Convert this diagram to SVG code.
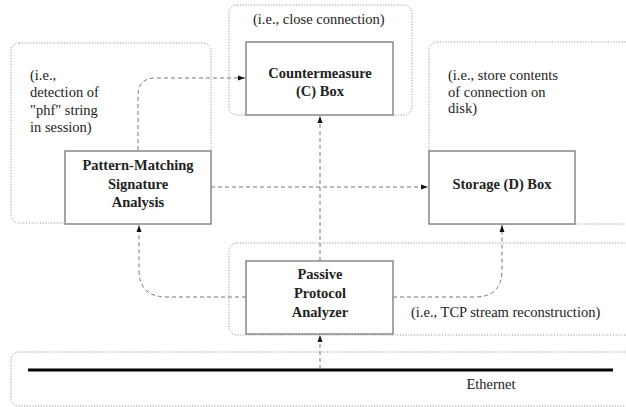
<svg xmlns="http://www.w3.org/2000/svg" width="626" height="407" viewBox="0 0 626 407">
<style>
.region{fill:none;stroke:#999;stroke-width:1;stroke-dasharray:1.2 1.6}
.box{fill:#fff;stroke:#888;stroke-width:1.5}
.conn{fill:none;stroke:#777;stroke-width:1;stroke-dasharray:4 3}
.lbl{font-family:'Liberation Serif','Times New Roman','DejaVu Serif',serif;font-size:14.5px;fill:#222}
.bold{font-family:'Liberation Serif','Times New Roman','DejaVu Serif',serif;font-size:14.5px;font-weight:bold;fill:#222;text-anchor:middle}
</style>
<defs>
<marker id="arr" markerWidth="8" markerHeight="6" refX="7" refY="3" orient="auto" markerUnits="userSpaceOnUse">
<path d="M0,0.5 L7,3 L0,5.5 z" fill="#111"/>
</marker>
</defs>
<rect width="626" height="407" fill="#fff"/>
<g id="regions">
<rect class="region" x="11" y="43" width="200" height="180" rx="8"/>
<rect class="region" x="229" y="5" width="183" height="110" rx="8"/>
<rect class="region" x="429" y="42" width="220" height="182" rx="8"/>
<rect class="region" x="229" y="243" width="420" height="92" rx="8"/>
<rect class="region" x="11" y="352" width="640" height="54" rx="8"/>
</g>
<g id="ethernet">
<line x1="28" y1="370" x2="613" y2="370" stroke="#000" stroke-width="3"/>
<text class="lbl" x="491" y="389" text-anchor="middle">Ethernet</text>
</g>
<g id="connectors">
<path class="conn" d="M138,150 V96 Q138,78 156,78 H245" marker-end="url(#arr)"/>
<path class="conn" d="M211,187 H428" marker-end="url(#arr)"/>
<path class="conn" d="M320,261 V116" marker-end="url(#arr)"/>
<path class="conn" d="M246,297 H167 Q139,297 139,270 V225" marker-end="url(#arr)"/>
<path class="conn" d="M393,297 H475 Q502,297 502,270 V225" marker-end="url(#arr)"/>
<path class="conn" d="M320,369 V335" marker-end="url(#arr)"/>
</g>
<g id="pattern">
<rect class="box" x="65" y="151" width="146" height="73"/>
<text class="bold" x="138" y="170">Pattern-Matching</text>
<text class="bold" x="138" y="189">Signature</text>
<text class="bold" x="138" y="207">Analysis</text>
</g>
<g id="pattern-note">
<text class="lbl" x="30" y="80">(i.e.,</text>
<text class="lbl" x="30" y="97">detection of</text>
<text class="lbl" x="30" y="115">"phf" string</text>
<text class="lbl" x="30" y="132">in session)</text>
</g>
<g id="countermeasure">
<rect class="box" x="246" y="42" width="147" height="73"/>
<text class="bold" x="320" y="78">Countermeasure</text>
<text class="bold" x="320" y="96">(C) Box</text>
</g>
<g id="countermeasure-note">
<text class="lbl" x="253" y="24">(i.e., close connection)</text>
</g>
<g id="storage">
<rect class="box" x="429" y="151" width="146" height="73"/>
<text class="bold" x="502" y="189">Storage (D) Box</text>
</g>
<g id="storage-note">
<text class="lbl" x="448" y="80">(i.e., store contents</text>
<text class="lbl" x="448" y="97">of connection on</text>
<text class="lbl" x="448" y="113">disk)</text>
</g>
<g id="passive">
<rect class="box" x="246" y="261" width="147" height="73"/>
<text class="bold" x="320" y="279">Passive</text>
<text class="bold" x="320" y="298">Protocol</text>
<text class="bold" x="320" y="317">Analyzer</text>
</g>
<g id="passive-note">
<text class="lbl" x="411" y="317">(i.e., TCP stream reconstruction)</text>
</g>
</svg>
